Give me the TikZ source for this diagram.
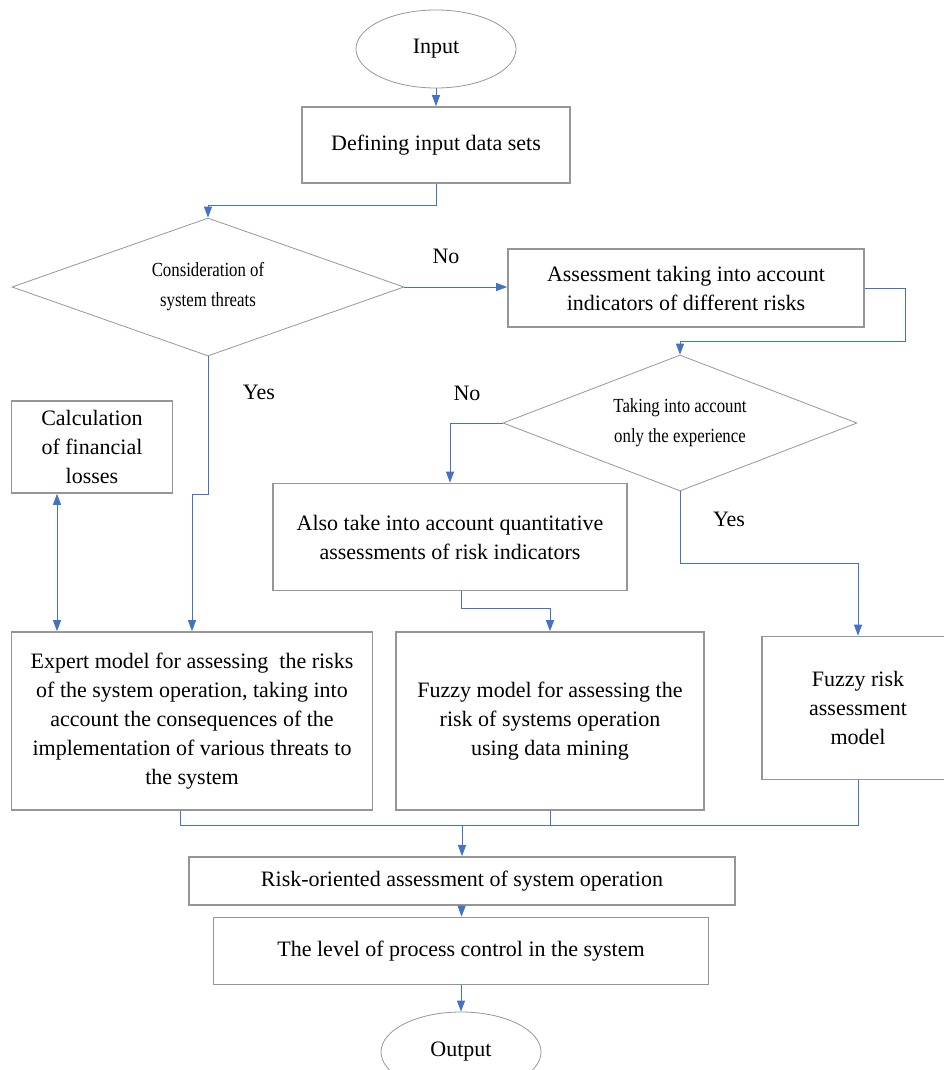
\documentclass[tikz,border=0pt]{standalone}
\usepackage{fontspec}
\setmainfont{Liberation Serif}
\newfontfamily\condfont{Liberation Serif}[FakeStretch=0.84]
\usetikzlibrary{shapes.geometric,arrows.meta}
\definecolor{boxgray}{RGB}{150,150,150}
\definecolor{arrblue}{RGB}{68,114,196}
\newcommand{\mainfs}{\fontsize{22}{29}\selectfont}
\newcommand{\dfs}{\condfont\fontsize{20}{30}\selectfont}
\tikzset{
  boxnode/.style={draw=boxgray, line width=1.6pt, rectangle, align=center, inner sep=0pt, font=\mainfs},
  ovalnode/.style={draw=boxgray, line width=0.8pt, ellipse, inner sep=0pt, font=\mainfs, minimum width=160pt, minimum height=78pt},
  dianode/.style={draw=boxgray, line width=0.8pt, diamond, shape aspect=2.6, inner sep=0pt, align=center, font=\dfs},
  arr/.style={draw=arrblue, line width=1pt, -{Triangle[width=8pt,length=11pt]}},
  arrtwo/.style={draw=arrblue, line width=1pt, {Triangle[width=8pt,length=11pt]}-{Triangle[width=8pt,length=11pt]}},
  ln/.style={draw=arrblue, line width=1pt},
  lbl/.style={font=\mainfs, inner sep=0pt}
}
\begin{document}
\begin{tikzpicture}[x=1pt,y=-1pt]
\useasboundingbox (0,0) rectangle (944,1070);
\clip (0,0) rectangle (944,1070);
\node[ovalnode] (inp) at (436,49) {Input};
\node[boxnode, minimum width=268pt, minimum height=76pt] (def) at (436,145) {Defining input data sets};
\node[dianode, minimum width=392pt, minimum height=138pt] (d1) at (208,287) {Consideration of\\system threats};
\node[boxnode, minimum width=356pt, minimum height=78pt] (a2) at (686,288) {Assessment taking into account\\indicators of different risks};
\node[dianode, minimum width=354pt, minimum height=136pt] (d2) at (680,423) {Taking into account\\only the experience};
\node[boxnode, minimum width=161pt, minimum height=92pt] (calc) at (92,447) {Calculation\\of financial\\losses};
\node[boxnode, minimum width=354pt, minimum height=107pt] (alsq) at (450,537) {Also take into account quantitative\\assessments of risk indicators};
\node[boxnode, minimum width=361pt, minimum height=178pt] (exp) at (192,721) {Expert model for assessing\ \ the risks\\of the system operation, taking into\\account the consequences of the\\implementation of various threats to\\the system};
\node[boxnode, minimum width=308pt, minimum height=178pt] (fm) at (550,721) {Fuzzy model for assessing the\\risk of systems operation\\using data mining};
\node[boxnode, minimum width=192pt, minimum height=143pt] (frm) at (858,708) {Fuzzy risk\\assessment\\model};
\node[boxnode, minimum width=546pt, minimum height=48pt] (ro) at (462,881) {Risk-oriented assessment of system operation};
\node[boxnode, minimum width=495pt, minimum height=67pt] (lvl) at (461,951) {The level of process control in the system};
\node[ovalnode, minimum height=80pt] (out) at (461,1052) {Output};
% labels
\node[lbl] (no1) at (446,256) {No};
\node[lbl] (yes1) at (259,392) {Yes};
\node[lbl] (no2) at (467,393) {No};
\node[lbl] (yes2) at (729,519) {Yes};
% helper coordinates
\coordinate (c0) at (436,205);
\coordinate (c1) at (905,341);
\coordinate (c2) at (461,608);
\coordinate (c3) at (680,563);
\coordinate (c4) at (208,494);
\coordinate (c5) at (57,494);
\coordinate (c6) at (180,825);
% connectors
\draw[arr] (inp) -- (def);
\draw[arr] (def.south) -- (c0) -| (d1.north);
\draw[arr] (d1.east) -- (d1.east -| a2.west);
\draw[arr] (a2.east) -| (c1) -| (d2.north);
\draw[arr] (d2.west) -| (alsq.north);
\draw[arr] (c2 |- alsq.south) -- (c2) -| (fm.north);
\draw[arr] (d2.south) -- (c3) -| (frm.north);
\draw[arr] (d1.south) -- (c4) -| (exp.north);
\draw[arrtwo] (c5 |- calc.south) -- (c5 |- exp.north);
\draw[ln] (c6 |- exp.south) -- (c6) -| (frm.south);
\draw[ln] (fm.south) -- (fm.south |- c6);
\draw[arr] (ro.north |- c6) -- (ro.north);
\draw[arr] (ro) -- (lvl);
\draw[arr] (lvl) -- (out);
\end{tikzpicture}
\end{document}
